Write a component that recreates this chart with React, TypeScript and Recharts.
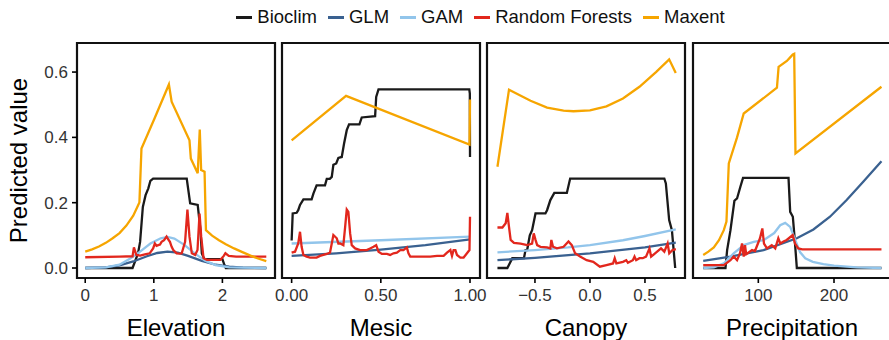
import React from 'react';
import { LineChart, Line, XAxis, YAxis, ReferenceArea } from 'recharts';

type Pt = [number, number];

const FONT = "'Liberation Sans', Arial, Helvetica, sans-serif";

const seriesNames = ['Bioclim', 'GLM', 'GAM', 'Random Forests', 'Maxent'];
const seriesColors = ['#1a1a1a', '#3a6190', '#92c5eb', '#e2271d', '#f6a500'];

const yTicks = [0, 0.2, 0.4, 0.6];
const yDomain: [number, number] = [-0.0306, 0.689];

// ---------- Elevation ----------
const elevationTicks = [0, 1, 2];
const elevationBioclim: Pt[] = [
  [0, 0], [0.69, 0], [0.77, 0.045], [0.8, 0.08], [0.84, 0.187], [0.88, 0.223], [0.92, 0.244],
  [0.95, 0.267], [0.99, 0.274], [1.48, 0.274], [1.53, 0.198], [1.64, 0.193], [1.68, 0.116],
  [1.7, 0.045], [1.735, 0.027], [2.0, 0.027], [2.03, 0.009], [2.05, 0], [2.64, 0],
];
const elevationGLM: Pt[] = [
  [0, 0], [0.3, 0.002], [0.5, 0.008], [0.7, 0.02], [0.9, 0.036], [1.05, 0.046], [1.2, 0.05],
  [1.35, 0.047], [1.5, 0.037], [1.7, 0.022], [1.9, 0.01], [2.1, 0.004], [2.3, 0.001], [2.64, 0],
];
const elevationGAM: Pt[] = [
  [0, 0], [0.3, 0.002], [0.5, 0.01], [0.65, 0.028], [0.8, 0.05], [0.95, 0.075], [1.1, 0.091],
  [1.2, 0.095], [1.3, 0.09], [1.45, 0.07], [1.6, 0.044], [1.75, 0.022], [1.9, 0.009], [2.1, 0.002], [2.64, 0],
];
const elevationRF: Pt[] = [
  [0, 0.033], [0.5, 0.035], [0.69, 0.036], [0.71, 0.063], [0.745, 0.04], [0.8, 0.038], [0.87, 0.042],
  [0.94, 0.045], [0.99, 0.06], [1.015, 0.075], [1.04, 0.068], [1.064, 0.07], [1.09, 0.072], [1.113, 0.08],
  [1.15, 0.085], [1.186, 0.096], [1.21, 0.088], [1.235, 0.08], [1.26, 0.065], [1.284, 0.055], [1.333, 0.045],
  [1.38, 0.044], [1.407, 0.045], [1.456, 0.08], [1.49, 0.179], [1.52, 0.096], [1.554, 0.045], [1.603, 0.04],
  [1.637, 0.055], [1.667, 0.167], [1.691, 0.096], [1.725, 0.03], [1.775, 0.025], [1.971, 0.025], [2.02, 0.037],
  [2.044, 0.045], [2.093, 0.037], [2.2, 0.035], [2.64, 0.035],
];
const elevationMaxent: Pt[] = [
  [0, 0.05], [0.1, 0.057], [0.2, 0.066], [0.3, 0.077], [0.4, 0.091], [0.5, 0.107], [0.6, 0.13], [0.7, 0.16],
  [0.79, 0.201], [0.82, 0.366], [1.01, 0.458], [1.22, 0.562], [1.26, 0.509], [1.52, 0.391], [1.54, 0.335],
  [1.64, 0.29], [1.67, 0.424], [1.69, 0.3], [1.74, 0.295], [1.76, 0.116], [1.85, 0.099], [1.95, 0.085],
  [2.05, 0.073], [2.17, 0.06], [2.3, 0.048], [2.41, 0.038], [2.52, 0.029], [2.64, 0.021],
];

// ---------- Mesic ----------
const mesicTicks = [0, 0.5, 1];
const mesicBioclim: Pt[] = [
  [0, 0.084], [0.006, 0.167], [0.028, 0.169], [0.037, 0.177], [0.047, 0.193], [0.066, 0.21], [0.112, 0.21],
  [0.122, 0.228], [0.14, 0.253], [0.187, 0.253], [0.197, 0.273], [0.214, 0.273], [0.225, 0.279], [0.234, 0.316],
  [0.25, 0.32], [0.262, 0.337], [0.281, 0.34], [0.294, 0.381], [0.309, 0.422], [0.322, 0.44], [0.38, 0.44],
  [0.393, 0.461], [0.468, 0.465], [0.474, 0.524], [0.487, 0.547], [0.996, 0.547], [0.999, 0.534], [1.0, 0.34],
];
const mesicGLM: Pt[] = [[0, 0.037], [0.25, 0.045], [0.5, 0.056], [0.75, 0.07], [1.0, 0.088]];
const mesicGAM: Pt[] = [[0, 0.075], [0.5, 0.085], [1.0, 0.096]];
const mesicRF: Pt[] = [
  [0, 0.047], [0.019, 0.05], [0.037, 0.075], [0.047, 0.111], [0.056, 0.065], [0.066, 0.04], [0.084, 0.035],
  [0.103, 0.032], [0.14, 0.032], [0.159, 0.037], [0.197, 0.043], [0.215, 0.047], [0.225, 0.075], [0.234, 0.101],
  [0.253, 0.091], [0.262, 0.075], [0.272, 0.075], [0.29, 0.07], [0.3, 0.126], [0.309, 0.179], [0.318, 0.172],
  [0.328, 0.106], [0.337, 0.07], [0.356, 0.06], [0.384, 0.055], [0.421, 0.055], [0.44, 0.06], [0.459, 0.065],
  [0.474, 0.07], [0.487, 0.05], [0.506, 0.043], [0.534, 0.043], [0.552, 0.04], [0.571, 0.045], [0.59, 0.047],
  [0.609, 0.055], [0.627, 0.055], [0.646, 0.063], [0.655, 0.045], [0.665, 0.035], [0.702, 0.035], [0.777, 0.035],
  [0.815, 0.037], [0.852, 0.037], [0.871, 0.047], [0.89, 0.055], [0.899, 0.037], [0.908, 0.055], [0.918, 0.055],
  [0.927, 0.04], [0.946, 0.032], [0.964, 0.032], [0.983, 0.045], [0.997, 0.055], [1.0, 0.157],
];
const mesicMaxent: Pt[] = [[0, 0.391], [0.305, 0.527], [0.997, 0.378], [1.0, 0.516]];

// ---------- Canopy ----------
const canopyTicks = [-0.5, 0, 0.5];
const canopyBioclim: Pt[] = [
  [-0.841, 0], [-0.751, 0], [-0.706, 0.03], [-0.6, 0.03], [-0.586, 0.055], [-0.571, 0.055], [-0.547, 0.1],
  [-0.526, 0.116], [-0.495, 0.167], [-0.405, 0.167], [-0.39, 0.177], [-0.36, 0.208], [-0.324, 0.23],
  [-0.21, 0.23], [-0.18, 0.274], [0.676, 0.274], [0.69, 0.259], [0.72, 0.147], [0.745, 0.116], [0.775, 0],
];
const canopyGLM: Pt[] = [[-0.841, 0.024], [-0.5, 0.031], [0, 0.045], [0.5, 0.063], [0.78, 0.078]];
const canopyGAM: Pt[] = [[-0.841, 0.048], [-0.5, 0.055], [-0.2, 0.063], [0, 0.07], [0.3, 0.085], [0.5, 0.098], [0.78, 0.118]];
const canopyRF: Pt[] = [
  [-0.841, 0.124], [-0.796, 0.124], [-0.766, 0.137], [-0.751, 0.169], [-0.736, 0.126], [-0.721, 0.086],
  [-0.691, 0.077], [-0.631, 0.075], [-0.571, 0.07], [-0.526, 0.075], [-0.511, 0.106], [-0.495, 0.086],
  [-0.48, 0.07], [-0.45, 0.065], [-0.39, 0.063], [-0.36, 0.06], [-0.351, 0.086], [-0.336, 0.065], [-0.3, 0.06],
  [-0.24, 0.065], [-0.195, 0.081], [-0.165, 0.07], [-0.135, 0.045], [-0.09, 0.035], [-0.03, 0.024], [0.03, 0.019],
  [0.09, 0.004], [0.15, 0.009], [0.21, 0.014], [0.225, 0.03], [0.24, 0.014], [0.3, 0.019], [0.33, 0.024],
  [0.345, 0.016], [0.39, 0.024], [0.405, 0.035], [0.42, 0.024], [0.45, 0.03], [0.48, 0.03], [0.51, 0.035],
  [0.541, 0.06], [0.556, 0.035], [0.6, 0.047], [0.646, 0.06], [0.676, 0.05], [0.706, 0.075], [0.721, 0.045],
  [0.751, 0.055], [0.781, 0.058],
];
const canopyMaxent: Pt[] = [
  [-0.841, 0.31], [-0.736, 0.546], [-0.54, 0.512], [-0.39, 0.491], [-0.24, 0.482], [-0.15, 0.48], [0, 0.483],
  [0.15, 0.495], [0.3, 0.519], [0.45, 0.555], [0.6, 0.6], [0.72, 0.639], [0.78, 0.597],
];

// ---------- Precipitation ----------
const precipTicks = [100, 200];
const precipBioclim: Pt[] = [
  [27.2, 0], [56.6, 0], [58.8, 0.055], [63.2, 0.116], [68.4, 0.206], [71.9, 0.213], [76.3, 0.249],
  [79.8, 0.276], [139.9, 0.276], [142.1, 0.172], [145.6, 0.157], [147.8, 0.096], [150.9, 0], [262.7, 0],
];
const precipGLM: Pt[] = [
  [27.2, 0.022], [63.2, 0.035], [107, 0.055], [150.9, 0.091], [172.8, 0.118], [194.7, 0.157],
  [216.7, 0.208], [238.6, 0.264], [262.7, 0.327],
];
const precipGAM: Pt[] = [
  [27.2, 0], [41.2, 0.002], [54.4, 0.014], [67.5, 0.045], [80.7, 0.07], [93.9, 0.08], [107, 0.085],
  [121, 0.107], [128.9, 0.131], [135.5, 0.138], [142.1, 0.126], [148.7, 0.086], [155.3, 0.048], [162, 0.03],
  [172, 0.019], [186, 0.012], [200, 0.007], [230, 0.002], [262.7, 0],
];
const precipRF: Pt[] = [
  [27.2, 0.009], [54.4, 0.009], [63.2, 0.024], [67.5, 0.035], [71.9, 0.024], [75.8, 0.045], [78.5, 0.075],
  [80.7, 0.035], [82.4, 0.07], [84, 0.042], [91.7, 0.055], [95.6, 0.052], [102.2, 0.091], [105.3, 0.121],
  [107.5, 0.075], [111.4, 0.06], [117.7, 0.07], [122.4, 0.06], [126.4, 0.091], [129, 0.075], [133.3, 0.081],
  [137.5, 0.086], [145.4, 0.101], [148.5, 0.075], [152.8, 0.06], [158, 0.057], [262.7, 0.057],
];
const precipMaxent: Pt[] = [
  [27.2, 0.04], [34, 0.05], [41.2, 0.063], [48, 0.085], [54.4, 0.116], [57.9, 0.142], [61.0, 0.32],
  [71.9, 0.4], [80.7, 0.473], [124.6, 0.552], [126.8, 0.616], [137.7, 0.634], [142.1, 0.645], [145.6, 0.654],
  [147.4, 0.656], [149.1, 0.351], [262.7, 0.555],
];

const toRows = (pts: Pt[]) => pts.map(([x, y]) => ({ x, y }));

type PanelProps = {
  left: number;
  width: number;
  showY: boolean;
  domain: [number, number];
  ticks: number[];
  fmt: (v: number) => string;
  title: string;
  series: Pt[][];
};

const SIDE = 24;

function Panel({ left, width, showY, domain, ticks, fmt, title, series }: PanelProps) {
  return (
    <div style={{ position: 'absolute', left, top: 0 }}>
      <LineChart
        width={width}
        height={340}
        margin={{ top: 43, right: SIDE, bottom: 0, left: showY ? 0 : SIDE }}
      >
        <XAxis
          dataKey="x"
          type="number"
          domain={domain}
          allowDataOverflow
          ticks={ticks}
          interval={0}
          tickFormatter={fmt}
          height={62}
          tickSize={5}
          tickMargin={6}
          axisLine={false}
          tickLine={{ stroke: '#000', strokeWidth: 1.6 }}
          tick={{ fill: '#333', fontSize: 17, fontFamily: FONT }}
          label={{
            value: title,
            position: 'insideBottom',
            offset: 4,
            style: { fill: '#000', fontSize: 24, fontFamily: FONT },
          }}
        />
        <YAxis
          type="number"
          domain={yDomain}
          allowDataOverflow
          ticks={yTicks}
          interval={0}
          hide={!showY}
          width={77}
          tickFormatter={(v: number) => v.toFixed(1)}
          tickSize={5}
          tickMargin={4}
          axisLine={false}
          tickLine={{ stroke: '#000', strokeWidth: 1.6 }}
          tick={{ fill: '#333', fontSize: 17, fontFamily: FONT }}
          label={{
            value: 'Predicted value',
            angle: -90,
            position: 'insideLeft',
            offset: 18,
            style: { textAnchor: 'middle', fill: '#000', fontSize: 24, fontFamily: FONT },
          }}
        />
        <ReferenceArea
          x1={domain[0]}
          x2={domain[1]}
          y1={yDomain[0]}
          y2={yDomain[1]}
          fill="none"
          fillOpacity={0}
          stroke="#111"
          strokeWidth={2.2}
          ifOverflow="visible"
        />
        {series.map((pts, i) => (
          <Line
            key={seriesNames[i]}
            data={toRows(pts)}
            dataKey="y"
            type="linear"
            stroke={seriesColors[i]}
            strokeWidth={2.3}
            dot={false}
            activeDot={false}
            isAnimationActive={false}
          />
        ))}
      </LineChart>
    </div>
  );
}

const fmtInt = (v: number) => String(v);
const fmt2 = (v: number) => v.toFixed(2);
const fmt1 = (v: number) => (v < 0 ? '\u2212' + Math.abs(v).toFixed(1) : v.toFixed(1));

export default function App() {
  return (
    <div
      style={{
        position: 'absolute',
        left: 0,
        top: 0,
        width: 889,
        height: 340,
        overflow: 'hidden',
        background: '#fff',
        fontFamily: FONT,
      }}
    >
      <div
        style={{
          position: 'absolute',
          left: 72,
          top: 5,
          width: 817,
          height: 24,
          display: 'flex',
          justifyContent: 'center',
          alignItems: 'center',
          fontSize: 18.5,
          color: '#111',
        }}
      >
        {seriesNames.map((n, i) => (
          <div key={n} style={{ display: 'flex', alignItems: 'center', marginRight: i < seriesNames.length - 1 ? 11 : 0 }}>
            <div style={{ width: 16, height: 3, background: seriesColors[i], marginRight: 5 }} />
            <span>{n}</span>
          </div>
        ))}
      </div>
      <Panel left={0} width={275 + SIDE} showY domain={[-0.12, 2.767]} ticks={elevationTicks} fmt={fmtInt} title="Elevation"
        series={[elevationBioclim, elevationGLM, elevationGAM, elevationRF, elevationMaxent]} />
      <Panel left={282 - SIDE} width={198 + 2 * SIDE} showY={false} domain={[-0.054, 1.056]} ticks={mesicTicks} fmt={fmt2} title="Mesic"
        series={[mesicBioclim, mesicGLM, mesicGAM, mesicRF, mesicMaxent]} />
      <Panel left={487 - SIDE} width={198 + 2 * SIDE} showY={false} domain={[-0.936, 0.864]} ticks={canopyTicks} fmt={fmt1} title="Canopy"
        series={[canopyBioclim, canopyGLM, canopyGAM, canopyRF, canopyMaxent]} />
      <Panel left={693 - SIDE} width={198 + 2 * SIDE} showY={false} domain={[13.7, 275.3]} ticks={precipTicks} fmt={fmtInt} title="Precipitation"
        series={[precipBioclim, precipGLM, precipGAM, precipRF, precipMaxent]} />
    </div>
  );
}
